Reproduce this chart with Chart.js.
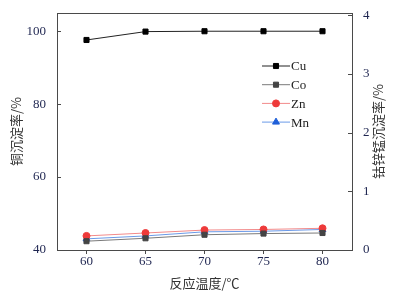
<!DOCTYPE html>
<html>
<head>
<meta charset="utf-8">
<script src="https://cdn.jsdelivr.net/npm/chart.js@4.4.1/dist/chart.umd.min.js"></script>
<style>
  html, body { margin: 0; padding: 0; background: #fff; }
</style>
</head>
<body>
<canvas id="chart" width="398" height="294"></canvas>
<script>
// data
const temps = [60, 65, 70, 75, 80];
const cuRate = [97.6, 99.9, 100, 100, 100];
const coRate = [0.15, 0.20, 0.26, 0.28, 0.29];
const znRate = [0.24, 0.29, 0.34, 0.35, 0.37];
const mnRate = [0.19, 0.24, 0.31, 0.32, 0.35];
const xTicks = [60, 65, 70, 75, 80];
const leftTicks = [40, 60, 80, 100];
const rightTicks = [0, 1, 2, 3, 4];

const serif = "'Liberation Serif', 'Times New Roman', serif";
const cjk = "'Noto Sans CJK SC', 'Liberation Serif', sans-serif";
const tickColor = '#1e2550';
const axisColor = '#4a4a4a';

function points(values) {
    return temps.map((t, i) => ({ x: t, y: values[i] }));
}

// frame, inner ticks, right title and the legend
const extras = {
    id: 'extras',
    afterDraw(chart) {
        const ctx = chart.ctx;
        const area = chart.chartArea;
        ctx.save();
        ctx.strokeStyle = axisColor;
        ctx.lineWidth = 1;
        ctx.beginPath();
        ctx.moveTo(area.left, area.top + 0.5);
        ctx.lineTo(area.right, area.top + 0.5);
        const y = chart.scales.y;
        leftTicks.forEach(v => {
            const py = Math.round(y.getPixelForValue(v)) + 0.5;
            ctx.moveTo(area.left, py);
            ctx.lineTo(area.left + 4, py);
        });
        const y1 = chart.scales.y1;
        rightTicks.forEach(v => {
            const py = Math.round(y1.getPixelForValue(v)) + 0.5;
            ctx.moveTo(area.right - 4, py);
            ctx.lineTo(area.right, py);
        });
        ctx.stroke();

        // right axis title, reads bottom to top
        ctx.translate(378, (area.top + area.bottom) / 2);
        ctx.rotate(-Math.PI / 2);
        ctx.fillStyle = '#333';
        ctx.font = '13px ' + cjk;
        ctx.textAlign = 'center';
        ctx.textBaseline = 'middle';
        ctx.fillText('钴锌锰沉淀率/%', 0, 0);
        ctx.restore();

        // legend
        ctx.save();
        ctx.font = '13px ' + serif;
        ctx.textBaseline = 'middle';
        chart.data.datasets.forEach((ds, i) => {
            const ly = 66 + i * 18.7;
            ctx.strokeStyle = ds.borderColor;
            ctx.lineWidth = 1;
            ctx.beginPath();
            ctx.moveTo(262, ly);
            ctx.lineTo(290, ly);
            ctx.stroke();
            ctx.fillStyle = ds.pointBackgroundColor;
            ctx.strokeStyle = ds.pointBorderColor;
            Chart.helpers.drawPoint(ctx, {
                pointStyle: ds.pointStyle,
                radius: ds.pointRadius,
                rotation: 0,
                borderWidth: 1
            }, 276, ly);
            ctx.fillStyle = '#222';
            ctx.fillText(ds.label, 291, ly + 1);
        });
        ctx.restore();
    }
};

new Chart(document.getElementById('chart'), {
    type: 'line',
    data: {
        datasets: [{
            label: 'Cu',
            data: points(cuRate),
            yAxisID: 'y',
            borderColor: '#222',
            borderWidth: 1,
            pointStyle: 'rect',
            pointRadius: 3.6,
            pointBackgroundColor: '#000',
            pointBorderColor: '#000'
        }, {
            label: 'Co',
            data: points(coRate),
            yAxisID: 'y1',
            borderColor: '#7a7a7a',
            borderWidth: 1,
            pointStyle: 'rect',
            pointRadius: 3.6,
            pointBackgroundColor: '#444',
            pointBorderColor: '#444'
        }, {
            label: 'Zn',
            data: points(znRate),
            yAxisID: 'y1',
            borderColor: '#f28a8a',
            borderWidth: 1,
            pointStyle: 'circle',
            pointRadius: 3.5,
            pointBackgroundColor: '#ee3a3a',
            pointBorderColor: '#ee3a3a'
        }, {
            label: 'Mn',
            data: points(mnRate),
            yAxisID: 'y1',
            borderColor: '#6a9ae8',
            borderWidth: 1,
            pointStyle: 'triangle',
            pointRadius: 4,
            pointBackgroundColor: '#1f5fd8',
            pointBorderColor: '#1f5fd8'
        }]
    },
    options: {
        responsive: false,
        animation: false,
        devicePixelRatio: 1,
        layout: { padding: { top: 13, left: 0, right: 0, bottom: 0 } },
        plugins: {
            legend: { display: false },
            tooltip: { enabled: false }
        },
        scales: {
            x: {
                type: 'linear',
                min: 57.5,
                max: 82.5,
                afterBuildTicks: s => { s.ticks = xTicks.map(v => ({ value: v })); },
                afterFit: s => { s.height = 44; },
                grid: { drawOnChartArea: false, drawTicks: true, tickLength: 4, color: axisColor },
                border: { color: axisColor, width: 1 },
                ticks: { padding: 0, color: tickColor, font: { family: serif, size: 13 } },
                title: {
                    display: true,
                    text: '反应温度/℃',
                    color: '#333',
                    font: { family: cjk, size: 13 },
                    padding: { top: 0, bottom: 3 }
                }
            },
            y: {
                position: 'left',
                min: 40,
                max: 105,
                afterBuildTicks: s => { s.ticks = leftTicks.map(v => ({ value: v })); },
                afterFit: s => { s.width = 57; },
                grid: { display: false },
                border: { color: axisColor, width: 1 },
                ticks: { padding: 3, color: tickColor, font: { family: serif, size: 13 } },
                title: {
                    display: true,
                    text: '铜沉淀率/%',
                    color: '#333',
                    font: { family: cjk, size: 13 },
                    padding: { top: 8, bottom: 0 }
                }
            },
            y1: {
                position: 'right',
                min: 0,
                max: 4.04,
                afterBuildTicks: s => { s.ticks = rightTicks.map(v => ({ value: v })); },
                afterFit: s => { s.width = 46; },
                grid: { display: false },
                border: { color: axisColor, width: 1 },
                ticks: { padding: 3, color: tickColor, font: { family: serif, size: 13 } }
            }
        }
    },
    plugins: [extras]
});
</script>
</body>
</html>
